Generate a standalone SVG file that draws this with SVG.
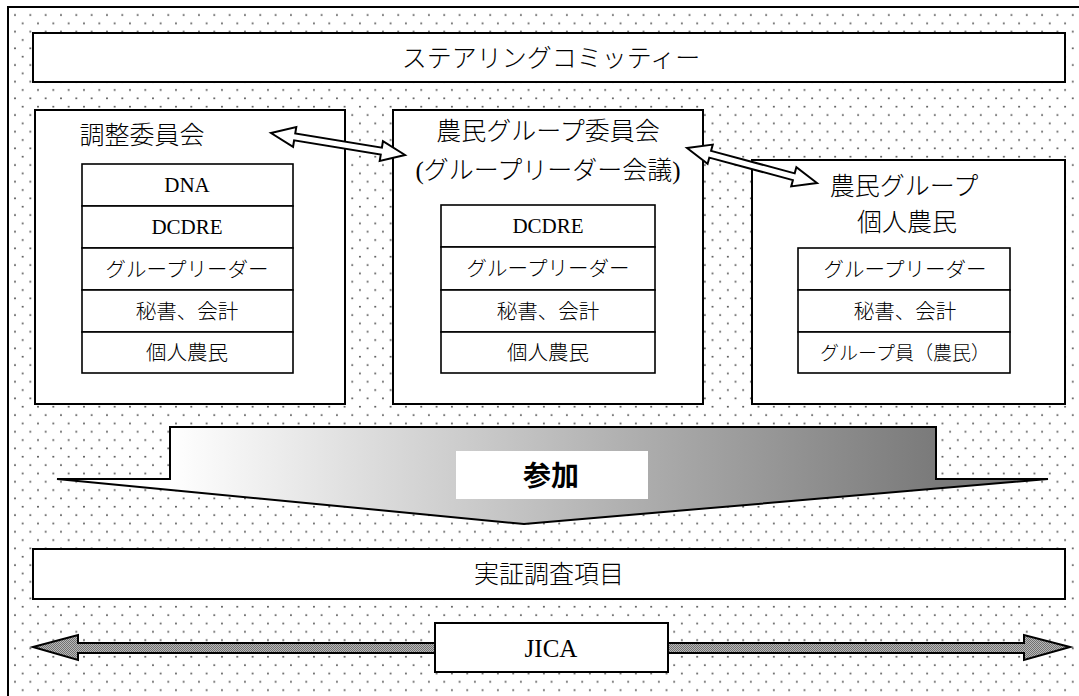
<svg xmlns="http://www.w3.org/2000/svg" width="1079" height="696" viewBox="0 0 1079 696">
<style>
.box{fill:#fff;stroke:#000;stroke-width:2}
.cell{fill:#fff;stroke:#000;stroke-width:1.6}
.t{font-family:"Liberation Serif","Noto Sans CJK JP",serif;fill:#000;text-anchor:middle;font-weight:300}
.ttl{font-size:25px}
.cl{font-size:20.5px}
.lt{font-size:21px;font-weight:normal}
.bold{font-weight:bold;font-size:28px}
.dbl{fill:#fff;stroke:#000;stroke-width:2;stroke-linejoin:miter}
.ja{fill:url(#dither);stroke:#000;stroke-width:2}
</style>
<defs>
<pattern id="dots" patternUnits="userSpaceOnUse" x="11.17" y="10.83" width="15.33" height="16.67">
<rect width="15.33" height="16.67" fill="#fff"/>
<circle cx="3.83" cy="4.17" r="0.9" fill="#444"/>
<circle cx="11.5" cy="12.5" r="0.9" fill="#444"/>
</pattern>
<pattern id="dither" patternUnits="userSpaceOnUse" width="2" height="2">
<rect width="2" height="2" fill="#b8b8b8"/>
<rect width="1" height="1" fill="#707070"/>
<rect x="1" y="1" width="1" height="1" fill="#707070"/>
</pattern>
<linearGradient id="grad" x1="170" y1="0" x2="936" y2="0" gradientUnits="userSpaceOnUse">
<stop offset="0" stop-color="#ffffff"/>
<stop offset="1" stop-color="#7a7a7a"/>
</linearGradient>
</defs>

<g id="background">
<rect x="8" y="7" width="1090" height="710" fill="url(#dots)" stroke="#000" stroke-width="2"/>
</g>

<g id="steering">
<rect class="box" x="33" y="33" width="1032" height="49"/>
<text class="t ttl" x="551" y="67">ステアリングコミッティー</text>
</g>

<g id="coord-committee">
<rect class="box" x="35" y="110" width="310" height="294"/>
<text class="t ttl" x="142" y="144">調整委員会</text>
<rect class="cell" x="82" y="164" width="211" height="42"/>
<rect class="cell" x="82" y="206" width="211" height="42"/>
<rect class="cell" x="82" y="248" width="211" height="42"/>
<rect class="cell" x="82" y="290" width="211" height="42"/>
<rect class="cell" x="82" y="332" width="211" height="41"/>
<text class="t lt" x="187" y="192">DNA</text>
<text class="t lt" x="187" y="234">DCDRE</text>
<text class="t cl" x="187" y="277">グループリーダー</text>
<text class="t cl" x="187" y="319">秘書、会計</text>
<text class="t cl" x="187" y="360">個人農民</text>
</g>

<g id="farmer-group-committee">
<rect class="box" x="393" y="110" width="310" height="294"/>
<text class="t ttl" x="548" y="140">農民グループ委員会</text>
<text class="t ttl" x="548" y="179">(グループリーダー会議)</text>
<rect class="cell" x="441" y="205" width="214" height="42"/>
<rect class="cell" x="441" y="247" width="214" height="43"/>
<rect class="cell" x="441" y="290" width="214" height="42"/>
<rect class="cell" x="441" y="332" width="214" height="41"/>
<text class="t lt" x="548" y="233">DCDRE</text>
<text class="t cl" x="548" y="276">グループリーダー</text>
<text class="t cl" x="548" y="319">秘書、会計</text>
<text class="t cl" x="548" y="360">個人農民</text>
</g>

<g id="farmer-group">
<rect class="box" x="752" y="160" width="313" height="244"/>
<text class="t ttl" x="904" y="195">農民グループ</text>
<text class="t ttl" x="907" y="231">個人農民</text>
<rect class="cell" x="798" y="248" width="212" height="42"/>
<rect class="cell" x="798" y="290" width="212" height="42"/>
<rect class="cell" x="798" y="332" width="212" height="41"/>
<text class="t cl" x="905" y="277">グループリーダー</text>
<text class="t cl" x="905" y="319">秘書、会計</text>
<text class="t cl" x="905" y="360" style="font-size:19px">グループ員（農民）</text>
</g>

<g id="participation">
<polygon points="170,427 936,427 936,479 1048,479 524,524 57,479 170,479" fill="url(#grad)" stroke="#000" stroke-width="2" stroke-linejoin="miter"/>
<rect x="456" y="451" width="192" height="48" fill="#fff"/>
<text class="t bold" x="551" y="486">参加</text>
</g>

<g id="demo-items">
<rect class="box" x="33" y="549" width="1032" height="50"/>
<text class="t ttl" x="549" y="583">実証調査項目</text>
</g>

<g id="connectors">
<polygon class="dbl" transform="translate(271,133) rotate(9.32)" points="0,0 24,-10 24,-3.5 111.8,-3.5 111.8,-10 135.8,0 111.8,10 111.8,3.5 24,3.5 24,10"/>
<polygon class="dbl" transform="translate(687,148) rotate(15.07)" points="0,0 24,-10 24,-3.5 110.6,-3.5 110.6,-10 134.6,0 110.6,10 110.6,3.5 24,3.5 24,10"/>
<polygon class="ja" points="33,647 78,635 78,643 435,643 435,653 78,653 78,660"/>
<polygon class="ja" points="1070,647 1024,635 1024,643 668,643 668,653 1024,653 1024,660"/>
</g>

<g id="jica">
<rect class="box" x="435" y="623" width="233" height="49"/>
<text class="t" x="551" y="657" style="font-size:25px;font-weight:normal">JICA</text>
</g>
</svg>
